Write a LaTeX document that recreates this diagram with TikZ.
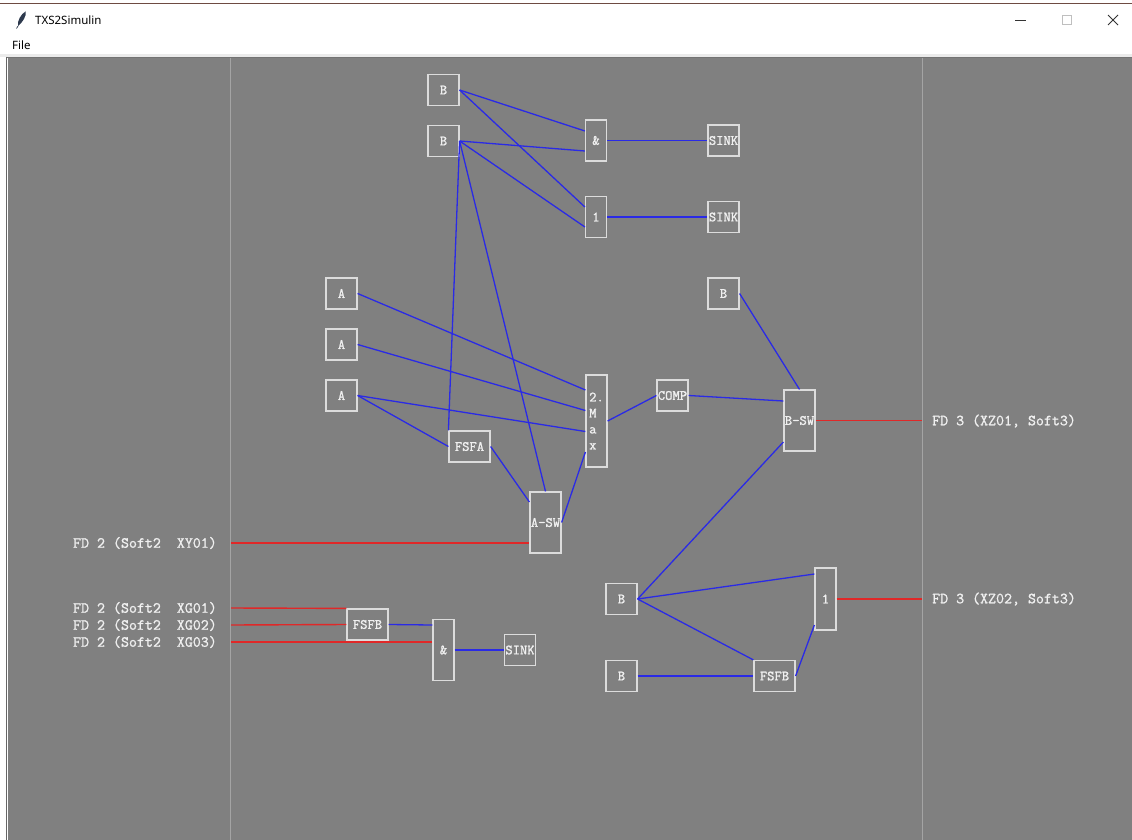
\documentclass[tikz,border=0pt]{standalone}
\usepackage{fontspec}
\newfontfamily\codefont{Latin Modern Mono}[FakeBold=1.2]
\newfontfamily\uifont{Noto Sans}
\definecolor{canvas}{HTML}{808080}
\definecolor{wire}{HTML}{2A2AE6}
\definecolor{signal}{HTML}{E02828}
\definecolor{frame}{HTML}{DCDCDC}
\definecolor{ink}{HTML}{F0F0F0}
\definecolor{sepline}{HTML}{A4A4A4}
\definecolor{winborder}{HTML}{6E4B42}
\definecolor{feather}{HTML}{2E3A4E}

\begin{document}
\begin{tikzpicture}[
  x=1pt, y=-1pt,
  block/.style={draw=frame, line width=1.2pt, inner sep=0pt, text=ink, minimum width=31pt, minimum height=31pt, font=\codefont\fontsize{14.2}{16}\selectfont},
  wideblock/.style={block, minimum width=41pt},
  tallblock/.style={block, minimum height=61pt},
  gate/.style={block, minimum width=21pt, minimum height=41pt},
  tallgate/.style={gate, minimum height=61pt},
  wire/.style={draw=wire, line width=1.3pt},
  signal/.style={draw=signal, line width=1.4pt},
  iolabel/.style={text=ink, inner sep=0pt, font=\codefont\fontsize{15.5}{17}\selectfont},
  uitext/.style={anchor=west, inner sep=0pt, font=\uifont\fontsize{11.5}{14}\selectfont}
]
\useasboundingbox (0,0) rectangle (1132,840);

% --- Window frame ---
\fill[white] (0,0) rectangle (1132,840);
\draw[winborder, line width=1pt] (0,4) -- (1132,4);
\fill[feather] (25.5,11.5) .. controls (27,16) and (22,23) .. (18,26) .. controls (17,21) and (21,14) .. cycle;
\draw[feather, line width=0.7pt] (18,26) -- (16.5,28.5);
\node[uitext] (title) at (35,20) {TXS2Simulin};
\draw[black!80, line width=0.8pt] (1015,20.5) -- (1026,20.5);
\draw[black!25, line width=0.8pt] (1062.5,15.5) rectangle (1071.5,24.5);
\draw[black!80, line width=0.8pt] (1108,15) -- (1118,25) (1118,15) -- (1108,25);
\node[uitext] (menu) at (12,45) {File};
\fill[black!8] (0,54) rectangle (1132,57);
\fill[canvas] (8,58) rectangle (1132,840);
\draw[black!60, line width=1.5pt] (6.5,57) -- (6.5,840);
\draw[black!55, line width=1pt] (7,57.5) -- (1132,57.5);
\draw[sepline, line width=1pt] (230.5,58) -- (230.5,840);
\draw[sepline, line width=1pt] (922.5,58) -- (922.5,840);

% --- 1. Binary inputs and gates ---
\node[block] (bIn1) at (443.5,90) {B};
\node[block] (bIn2) at (443.5,141) {B};
\node[gate] (and1) at (596,140.5) {\&};
\node[gate] (or1) at (596,217) {1};
\node[block] (sink1) at (723.5,140.5) {SINK};
\node[block] (sink2) at (723.5,217) {SINK};

\draw[wire] (bIn1.east) -- ([yshift=9.5pt]and1.west);
\draw[wire] (bIn1.east) -- ([yshift=10pt]or1.west);
\draw[wire] (bIn2.east) -- ([yshift=-10.5pt]and1.west);
\draw[wire] (bIn2.east) -- ([yshift=-10pt]or1.west);
\draw[wire] (and1.east) -- (sink1.west);
\draw[wire] (or1.east) -- (sink2.west);

% --- 2. Analog inputs, max selection ---
\node[block] (aIn1) at (341.5,293.5) {A};
\node[block] (aIn2) at (341.5,344.5) {A};
\node[block] (aIn3) at (341.5,395.5) {A};
\node[wideblock] (fsfa) at (469.5,446.5) {FSFA};
\node[block, minimum width=21pt, minimum height=92pt, align=left, font=\codefont\fontsize{14.2}{16}\selectfont] (max) at (596.5,421) {2.\\M\\a\\x};
\node[tallblock] (asw) at (545.5,522.5) {A-SW};
\node[block] (comp) at (672.5,395.5) {COMP};
\node[block] (bIn3) at (723.5,293.5) {B};
\node[tallblock] (bsw) at (799.5,420.5) {B-SW};

\draw[wire] (bIn2.east) -- (fsfa.north west);
\draw[wire] (bIn2.east) -- (asw.north);
\draw[wire] (aIn1.east) -- ([yshift=31pt]max.west);
\draw[wire] (aIn2.east) -- ([yshift=10.5pt]max.west);
\draw[wire] (aIn3.east) -- ([yshift=-10.5pt]max.west);
\draw[wire] (aIn3.east) -- (fsfa.west);
\draw[wire] (fsfa.east) -- ([yshift=20.5pt]asw.west);
\draw[wire] ([yshift=-31pt]max.west) -- (asw.east);
\draw[wire] (max.east) -- (comp.west);
\draw[wire] (comp.east) -- ([yshift=19.5pt]bsw.west);
\draw[wire] (bIn3.east) -- (bsw.north);

% --- 3. Lower logic ---
\node[wideblock] (fsfb1) at (367.5,624.5) {FSFB};
\node[tallgate] (and2) at (443.5,650) {\&};
\node[block] (sink3) at (520,650) {SINK};
\node[block] (bIn4) at (621.5,599) {B};
\node[block] (bIn5) at (621.5,676) {B};
\node[tallgate, minimum height=62pt] (or2) at (825.5,599) {1};
\node[wideblock] (fsfb2) at (774.5,676) {FSFB};

\draw[wire] (fsfb1.east) -- ([yshift=25pt]and2.west);
\draw[wire] (and2.east) -- (sink3.west);
\draw[wire] (bIn4.east) -- ([yshift=-21.5pt]bsw.west);
\draw[wire] (bIn4.east) -- ([yshift=25pt]or2.west);
\draw[wire] (bIn4.east) -- (fsfb2.north west);
\draw[wire] (bIn5.east) -- (fsfb2.west);
\draw[wire] (fsfb2.east) -- ([yshift=-26pt]or2.west);

% --- 4. Field signals ---
\node[iolabel, anchor=east] (lblXY01) at (217,543) {FD 2 (Soft2~~XY01)};
\node[iolabel, anchor=east] (lblXG01) at (217,608) {FD 2 (Soft2~~XG01)};
\node[iolabel, anchor=east] (lblXG02) at (217,625) {FD 2 (Soft2~~XG02)};
\node[iolabel, anchor=east] (lblXG03) at (217,642) {FD 2 (Soft2~~XG03)};
\node[iolabel, anchor=west] (lblXZ01) at (932,421) {FD 3 (XZ01, Soft3)};
\node[iolabel, anchor=west] (lblXZ02) at (932,599) {FD 3 (XZ02, Soft3)};

\coordinate (pXY01) at (231,543);
\coordinate (pXG01) at (231,608);
\coordinate (pXG02) at (231,625);
\coordinate (pXG03) at (231,642);
\coordinate (pXZ01) at (922,420.5);
\coordinate (pXZ02) at (922,599);

\draw[signal] (pXY01) -- ([yshift=-20.5pt]asw.west);
\draw[signal] (pXG01) -- (fsfb1.north west);
\draw[signal] (pXG02) -- (fsfb1.west);
\draw[signal] (pXG03) -- ([yshift=8pt]and2.west);
\draw[signal] (bsw.east) -- (pXZ01);
\draw[signal] (or2.east) -- (pXZ02);

\end{tikzpicture}
\end{document}
